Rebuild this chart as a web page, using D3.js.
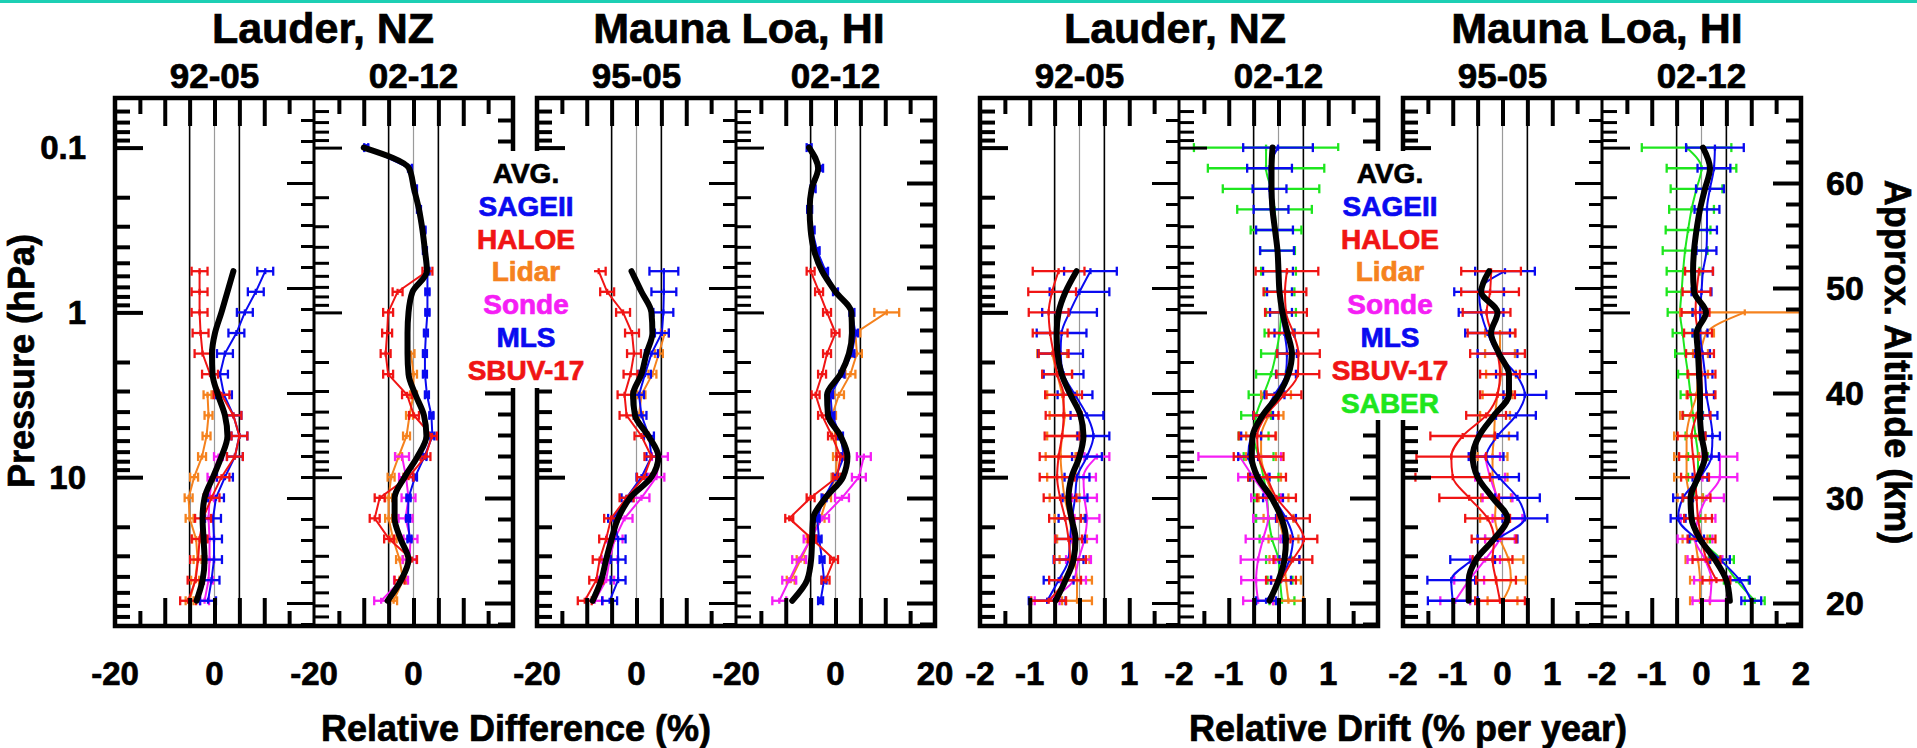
<!DOCTYPE html>
<html>
<head>
<meta charset="utf-8">
<script src="https://cdn.jsdelivr.net/npm/d3@7"></script>
<style>
  body { margin: 0; background: #fff; }
  svg text { font-family: "Liberation Sans", Arial, Helvetica, sans-serif; font-weight: bold; stroke-width: 0.7px; }
</style>
</head>
<body>
<svg id="chart" width="1917" height="748"></svg>
<script>
const _ = null;

// pressure levels (hPa), top to bottom
const levels = [0.1, 0.1334, 0.1778, 0.2371, 0.3162, 0.4217, 0.5623, 0.7499, 1, 1.334, 1.778, 2.371,
                3.162, 4.217, 5.623, 7.499, 10, 13.34, 17.78, 23.71, 31.62, 42.17, 56.23];

// ---- Lauder, relative difference, 92-05 ----
const ldA_avg   = [_,_,_,_,_,_, 3.8, 2.6, 1.4, 0.1, -0.5, -0.4, 0.7, 2.1, 2.6, 1.4, -0.3, -2.0, -2.4, -2.2, -2.0, -2.4, -3.6];
const ldA_sage  = [_,_,_,_,_,_, 10.2, 8.3, 6.1, 4.4, 2.1, 1.1, 1.9, 3.8, 5.0, 4.1, 2.1, 0.3, -0.3, -0.1, -0.1, -0.6, -1.3];
const ldA_haloe = [_,_,_,_,_,_, -3.0, -3.0, -3.0, -2.8, -2.4, -0.9, 1.4, 3.8, 5.0, 4.1, 1.4, -0.6, -2.3, -3.0, -3.3, -3.8, -5.3];
const ldA_lidar = [_,_,_,_,_,_,_,_,_,_,_,_, -1.4, -1.2, -1.6, -2.5, -4.1, -5.2, -5.0, -3.7, -3.4, -3.9, -5.0];
const ldA_sonde = [_,_,_,_,_,_,_,_,_,_,_,_,_,_,_, 0.8, -0.5, -1.0, -1.2, -1.0, -1.0, -1.2, -2.0];
const ldA_err   = [1.6, 1.6, 0.8, 0.9]; // SAGEII, HALOE, Lidar, Sonde

// ---- Lauder, relative difference, 02-12 ----
const ldB_avg   = [-10.0, -0.9, 0.1, 1.1, 1.8, 2.3, 2.7, -0.2, -1.0, -1.2, -1.2, -1.0, 0.4, 2.1, 2.6, 0.8, -1.8, -3.8, -3.8, -2.6, -1.0, -2.5, -5.2];
const ldB_mls   = [-9.5, -0.7, 0.3, 1.1, 2.0, 2.3, 2.8, 2.8, 2.8, 2.5, 2.3, 2.3, 2.7, 3.6, 3.8, 2.2, 0.3, -1.0, -1.1, -0.8, _, _, _];
const ldB_sbuv  = [_,_,_,_,_,_, 2.8, -3.2, -5.1, -5.3, -5.6, -5.1, -1.3, 0.1, 3.7, 2.4, -1.0, -6.8, -7.8, -4.9, -0.3, -2.8, _];
const ldB_lidar = [_,_,_,_,_,_,_,_,_,_, -0.5, 0.0, 0.0, -0.8, -1.4, -3.0, -4.5, -5.0, -5.0, -4.1, -2.8, -2.1, -4.0];
const ldB_sonde = [_,_,_,_,_,_,_,_,_,_,_,_,_,_,_, -2.3, -1.5, -1.0, -1.6, -0.6, -0.8, -2.5, -6.5];
const ldB_err   = [0.4, 1.0, 0.7, 1.4]; // MLS, SBUV-17, Lidar, Sonde

// ---- Mauna Loa, relative difference, 95-05 ----
const mdA_avg     = [_,_,_,_,_,_, -1.0, 1.0, 3.0, 3.2, 2.0, 1.0, -0.7, -0.3, 2.4, 4.4, 3.0, -1.3, -3.7, -5.0, -6.1, -7.1, -8.8];
const mdA_sage    = [_,_,_,_,_,_, 5.5, 5.5, 5.4, 5.1, 3.0, 1.7, 0.5, 1.0, 2.5, 3.0, 1.0, -2.0, -4.7, -3.7, -3.7, -3.7, -5.4];
const mdA_sageErr = [_,_,_,_,_,_, 2.9, 2.5, 2.0, 1.4, 1.3, 1.2, 1.0, 1.0, 1.0, 1.0, 1.0, 1.0, 1.0, 1.5, 1.5, 1.5, 1.5];
const mdA_haloe   = [_,_,_,_,_,_, -7.6, -5.9, -2.7, -0.9, -0.5, -1.2, -2.4, -2.0, 1.0, 3.0, 1.5, -2.0, -5.1, -6.1, -7.4, -8.1, -10.4];
const mdA_lidar   = [_,_,_,_,_,_,_,_,_, 5.7, 4.5, 3.2, 1.0, 0.5, _,_,_,_,_,_,_,_,_];
const mdA_sonde   = [_,_,_,_,_,_,_,_,_,_,_,_,_,_,_, 4.7, 4.0, 1.0, -2.4, -4.4, -5.4, -6.1, -8.4];
const mdA_err     = [1.4, 0.8, 1.6]; // HALOE, Lidar, Sonde

// ---- Mauna Loa, relative difference, 02-12 ----
const mdB_avg      = [-5.3, -3.5, -4.8, -5.2, -5.0, -4.3, -2.7, 0.0, 3.2, 3.3, 2.7, 1.0, -1.7, -1.5, 1.0, 2.4, 1.5, -2.0, -4.5, -4.7, -4.9, -5.7, -8.7];
const mdB_mls      = [-5.3, -3.0, -4.5, -5.2, -4.7, -3.7, -2.0, 0.0, 3.3, 4.0, 3.3, 1.3, -1.0, -0.7, 1.0, 1.7, 0.0, -2.3, -3.7, -3.3, -2.7, -2.3, -3.0];
const mdB_sbuv     = [_,_,_,_,_,_, -5.0, -3.3, -1.7, 0.0, -1.7, -2.7, -4.0, -2.7, -0.7, 1.0, 0.3, -5.0, -9.3, -4.7, -0.3, -2.0, _];
const mdB_lidar    = [_,_,_,_,_,_,_,_, 10.3, 4.0, 4.3, 3.0, 0.7, -0.7, 0.0, 0.3, 0.0, -1.7, -3.0, -5.0, -7.0, -9.0, _];
const mdB_lidarErr = [_,_,_,_,_,_,_,_, 2.5, 1.0, 1.0, 1.0, 1.0, 0.8, 0.8, 0.8, 0.8, 0.8, 0.8, 0.8, 0.8, 0.8, _];
const mdB_sonde    = [_,_,_,_,_,_,_,_,_,_,_,_,_,_,_, 5.7, 4.7, 1.3, -2.7, -5.0, -7.3, -9.3, -11.3];
const mdB_err      = [0.5, 0.8, 1.4]; // MLS, SBUV-17, Sonde

// ---- Lauder, relative drift, 92-05 ----
const ltA_avg      = [_,_,_,_,_,_, -0.06, -0.28, -0.42, -0.46, -0.44, -0.36, -0.18, 0.02, 0.08, 0.0, -0.16, -0.22, -0.16, -0.08, -0.12, -0.28, -0.48];
const ltA_sage     = [_,_,_,_,_,_, 0.22, 0.0, -0.2, -0.36, -0.38, -0.32, -0.09, 0.15, 0.28, 0.15, -0.05, -0.09, -0.15, -0.19, -0.22, -0.42, -0.65];
const ltA_sageErr  = [_,_,_,_,_,_, 0.53, 0.6, 0.55, 0.5, 0.45, 0.4, 0.35, 0.33, 0.32, 0.3, 0.25, 0.25, 0.27, 0.3, 0.3, 0.3, 0.37];
const ltA_haloe    = [_,_,_,_,_,_, -0.42, -0.55, -0.62, -0.59, -0.52, -0.45, -0.32, -0.32, -0.35, -0.42, -0.45, -0.39, -0.29, -0.22, -0.19, -0.29, -0.62];
const ltA_haloeErr = [_,_,_,_,_,_, 0.52, 0.48, 0.4, 0.35, 0.3, 0.3, 0.37, 0.36, 0.35, 0.38, 0.35, 0.33, 0.32, 0.27, 0.32, 0.32, 0.35];
const ltA_lidar    = [_,_,_,_,_,_,_,_,_,_, -0.55, -0.45, -0.35, -0.3, -0.35, -0.38, -0.35, -0.3, -0.2, -0.15, -0.1, -0.05, -0.05];
const ltA_sonde    = [_,_,_,_,_,_,_,_,_,_,_,_,_,_,_, 0.35, 0.08, 0.1, 0.15, 0.1, -0.02, -0.12, -0.65];
const ltA_err      = [0.3, 0.25]; // Lidar, Sonde

// ---- Lauder, relative drift, 02-12 ----
const ltB_avg      = [-0.12, -0.14, -0.14, -0.12, -0.07, -0.02, 0.0, 0.02, 0.08, 0.18, 0.27, 0.2, 0.0, -0.32, -0.52, -0.54, -0.42, -0.14, 0.06, 0.15, 0.12, 0.0, -0.18];
const ltB_mls      = [-0.01, -0.18, -0.18, -0.15, -0.08, -0.03, -0.01, 0.02, 0.05, 0.12, 0.17, 0.15, -0.08, -0.31, -0.55, -0.61, -0.38, -0.11, 0.15, 0.29, 0.22, 0.05, -0.25];
const ltB_mlsErr   = [0.7, 0.45, 0.34, 0.35, 0.37, 0.34, 0.3, 0.25, 0.22, 0.2, 0.2, 0.2, 0.2, 0.2, 0.2, 0.2, 0.2, 0.2, 0.2, 0.2, 0.2, 0.2, 0.2];
const ltB_saber    = [-0.25, -0.25, -0.15, -0.08, -0.05, -0.02, 0.0, 0.02, 0.05, 0.02, -0.05, -0.15, -0.3, -0.45, -0.5, -0.4, -0.3, -0.23, -0.2, -0.13, 0.0, 0.03, 0.07];
const ltB_saberErr = [1.45, 1.17, 0.97, 0.75, 0.51, 0.35, 0.35, 0.3, 0.3, 0.3, 0.3, 0.3, 0.3, 0.3, 0.3, 0.3, 0.3, 0.25, 0.25, 0.25, 0.25, 0.25, 0.25];
const ltB_sbuv     = [_,_,_,_,_,_, 0.17, 0.13, 0.15, 0.3, 0.4, 0.39, 0.11, -0.25, -0.43, -0.4, -0.23, -0.04, 0.3, 0.51, 0.29, 0.05, _];
const ltB_sbuvErr  = [_,_,_,_,_,_, 0.63, 0.43, 0.42, 0.5, 0.43, 0.43, 0.35, 0.25, 0.37, 0.5, 0.38, 0.39, 0.33, 0.27, 0.39, 0.3, _];
const ltB_lidar    = [_,_,_,_,_,_,_,_,_,_,_,_, -0.05, -0.2, -0.35, -0.35, -0.25, -0.1, 0.0, 0.1, 0.12, 0.15, 0.2];
const ltB_sonde    = [_,_,_,_,_,_,_,_,_,_,_,_,_,_,_, -0.78, -0.51, -0.25, -0.21, -0.31, -0.41, -0.45, -0.41];
const ltB_sondeErr = [_,_,_,_,_,_,_,_,_,_,_,_,_,_,_, 0.83, 0.3, 0.3, 0.3, 0.35, 0.35, 0.3, 0.3];
const ltB_err      = [0.3]; // Lidar

// ---- Mauna Loa, relative drift, 95-05 ----
const mtA_avg      = [_,_,_,_,_,_, -0.27, -0.43, -0.1, -0.23, -0.07, 0.13, 0.13, -0.17, -0.47, -0.6, -0.5, -0.2, 0.1, -0.17, -0.53, -0.68, -0.68];
const mtA_sage     = [_,_,_,_,_,_, 0.05, -0.47, -0.43, -0.3, -0.1, 0.27, 0.45, 0.27, -0.1, -0.33, -0.07, 0.3, 0.45, -0.1, -0.6, -1.03, -1.0];
const mtA_sageErr  = [_,_,_,_,_,_, 0.6, 0.5, 0.45, 0.45, 0.4, 0.4, 0.43, 0.4, 0.4, 0.35, 0.4, 0.45, 0.45, 0.4, 0.45, 0.48, 0.5];
const mtA_haloe    = [_,_,_,_,_,_, -0.23, -0.25, -0.32, -0.22, -0.1, -0.05, -0.1, -0.33, -0.8, -1.03, -1.0, -0.67, -0.3, -0.17, -0.2, -0.13, -0.05];
const mtA_haloeErr = [_,_,_,_,_,_, 0.6, 0.58, 0.48, 0.48, 0.55, 0.4, 0.35, 0.4, 0.65, 0.7, 0.75, 0.6, 0.45, 0.45, 0.4, 0.4, 0.5];
const mtA_lidar    = [_,_,_,_,_,_,_,_,_, -0.05, -0.05, -0.03, -0.1, -0.15, -0.17, -0.2, -0.2, -0.13, -0.15, -0.05, 0.12, 0.17, 0.0];
const mtA_sonde    = [_,_,_,_,_,_,_,_,_,_,_,_,_,_,_, -0.35, -0.25, -0.1, 0.1, -0.05, -0.35, -0.67, -0.95];
const mtA_err      = [0.3, 0.3]; // Lidar, Sonde

// ---- Mauna Loa, relative drift, 02-12 ----
const mtB_avg      = [0.03, 0.17, 0.07, -0.03, -0.1, -0.15, -0.17, -0.15, 0.09, -0.1, -0.07, -0.05, -0.03, -0.03, 0.0, 0.07, -0.07, -0.22, -0.2, -0.03, 0.27, 0.5, 0.57];
const mtB_mls      = [0.27, 0.25, 0.17, 0.11, 0.11, 0.1, 0.03, 0.0, -0.03, -0.03, 0.02, 0.07, 0.1, 0.17, 0.22, 0.2, -0.03, -0.37, -0.47, -0.1, 0.37, 0.77, 1.0];
const mtB_mlsErr   = [0.58, 0.33, 0.28, 0.25, 0.2, 0.2, 0.2, 0.2, 0.15, 0.15, 0.15, 0.15, 0.15, 0.15, 0.15, 0.15, 0.15, 0.2, 0.15, 0.15, 0.2, 0.2, 0.2];
const mtB_saber    = [-0.3, 0.0, -0.1, -0.2, -0.27, -0.33, -0.37, -0.4, -0.43, -0.38, -0.33, -0.27, -0.22, -0.17, -0.12, -0.07, -0.07, -0.17, -0.23, -0.03, 0.4, 0.7, 1.07];
const mtB_saberErr = [0.9, 0.7, 0.52, 0.45, 0.45, 0.45, 0.33, 0.3, 0.25, 0.2, 0.2, 0.2, 0.2, 0.2, 0.2, 0.2, 0.2, 0.2, 0.2, 0.2, 0.25, 0.25, 0.2];
const mtB_sbuv     = [_,_,_,_,_,_, -0.05, -0.1, -0.12, -0.07, -0.03, 0.0, 0.0, -0.1, -0.2, -0.17, -0.13, -0.1, -0.07, 0.0, 0.1, 0.3, _];
const mtB_lidar    = [_,_,_,_,_,_,_,_, 0.87, 0.1, -0.02, -0.07, -0.1, -0.23, -0.3, -0.3, -0.3, -0.23, -0.17, -0.13, -0.07, -0.03, -0.03];
const mtB_lidarErr = [_,_,_,_,_,_,_,_, 1.3, 0.15, 0.15, 0.2, 0.2, 0.2, 0.25, 0.25, 0.25, 0.25, 0.25, 0.25, 0.25, 0.2, 0.2];
const mtB_sonde    = [_,_,_,_,_,_,_,_,_,_,_,_,_,_,_, 0.37, 0.37, 0.1, -0.07, -0.13, 0.07, 0.2, 0.17];
const mtB_err      = [0.28, 0.35]; // SBUV-17, Sonde

// labels
const siteTitles = ['Lauder, NZ', 'Mauna Loa, HI', 'Lauder, NZ', 'Mauna Loa, HI'];
const periods = [['92-05', '02-12'], ['95-05', '02-12'], ['92-05', '02-12'], ['95-05', '02-12']];
const legendNames = ['AVG.', 'SAGEII', 'HALOE', 'Lidar', 'Sonde', 'MLS', 'SBUV-17', 'SABER'];
const pressureLabels = [0.1, 1, 10];
const altitudeLabels = [20, 30, 40, 50, 60];
const pMajor = [0.1, 1, 10];
const pMinor = [0.06, 0.07, 0.08, 0.09, 0.2, 0.3, 0.4, 0.5, 0.6, 0.7, 0.8, 0.9, 2, 3, 4, 5, 6, 7, 8, 9, 20, 30, 40, 50, 60, 70];
const aMajor = [20, 30, 40, 50, 60];
const aMinor = [18, 22, 24, 26, 28, 32, 34, 36, 38, 42, 44, 46, 48, 52, 54, 56, 58, 62, 64, 66];

const colors = {
  'SAGEII': '#0a0af0', 'MLS': '#0a0af0', 'HALOE': '#f01414', 'SBUV-17': '#f01414',
  'Lidar': '#f5821e', 'Sonde': '#f51ef5', 'SABER': '#1ee61e', 'AVG.': '#000'
};

const panels = [
  {g: 0, s: 0, kind: 'diff', avg: ldA_avg, series: [
    ['Lidar', ldA_lidar, ldA_err[2]], ['Sonde', ldA_sonde, ldA_err[3]],
    ['SAGEII', ldA_sage, ldA_err[0]], ['HALOE', ldA_haloe, ldA_err[1]]]},
  {g: 0, s: 1, kind: 'diff', avg: ldB_avg, series: [
    ['Lidar', ldB_lidar, ldB_err[2]], ['Sonde', ldB_sonde, ldB_err[3]],
    ['MLS', ldB_mls, ldB_err[0]], ['SBUV-17', ldB_sbuv, ldB_err[1]]]},
  {g: 1, s: 0, kind: 'diff', avg: mdA_avg, series: [
    ['Lidar', mdA_lidar, mdA_err[1]], ['Sonde', mdA_sonde, mdA_err[2]],
    ['SAGEII', mdA_sage, mdA_sageErr], ['HALOE', mdA_haloe, mdA_err[0]]]},
  {g: 1, s: 1, kind: 'diff', avg: mdB_avg, series: [
    ['Lidar', mdB_lidar, mdB_lidarErr], ['Sonde', mdB_sonde, mdB_err[2]],
    ['MLS', mdB_mls, mdB_err[0]], ['SBUV-17', mdB_sbuv, mdB_err[1]]]},
  {g: 2, s: 0, kind: 'drift', avg: ltA_avg, series: [
    ['Lidar', ltA_lidar, ltA_err[0]], ['Sonde', ltA_sonde, ltA_err[1]],
    ['SAGEII', ltA_sage, ltA_sageErr], ['HALOE', ltA_haloe, ltA_haloeErr]]},
  {g: 2, s: 1, kind: 'drift', avg: ltB_avg, series: [
    ['SABER', ltB_saber, ltB_saberErr], ['Lidar', ltB_lidar, ltB_err[0]], ['Sonde', ltB_sonde, ltB_sondeErr],
    ['MLS', ltB_mls, ltB_mlsErr], ['SBUV-17', ltB_sbuv, ltB_sbuvErr]]},
  {g: 3, s: 0, kind: 'drift', avg: mtA_avg, series: [
    ['Lidar', mtA_lidar, mtA_err[0]], ['Sonde', mtA_sonde, mtA_err[1]],
    ['SAGEII', mtA_sage, mtA_sageErr], ['HALOE', mtA_haloe, mtA_haloeErr]]},
  {g: 3, s: 1, kind: 'drift', avg: mtB_avg, series: [
    ['SABER', mtB_saber, mtB_saberErr], ['Lidar', mtB_lidar, mtB_lidarErr], ['Sonde', mtB_sonde, mtB_err[1]],
    ['MLS', mtB_mls, mtB_mlsErr], ['SBUV-17', mtB_sbuv, mtB_err[0]]]}
];

// layout
const W = 1917, H = 748;
const plotTop = 98, plotBot = 626;
const groupLeft = [115, 537, 980, 1403];
const subW = 199;
const titleX = [323, 739, 1175, 1597];
const legendBoxes = [[458, 151, 136, 237], [1334, 151, 112, 269]];
const legendX = [526, 1390];

const svg = d3.select('#chart');
svg.append('rect').attr('width', W).attr('height', 3).attr('fill', '#1ccfb4');

const yP = d3.scaleLog().domain([0.05, 80]).range([plotTop, plotBot]);
const yA = d3.scaleLinear().domain([20, 60]).range([603, 183]);

function subScale(p) {
  const l = groupLeft[p.g] + p.s * subW;
  return d3.scaleLinear().domain(p.kind === 'diff' ? [-20, 20] : [-2, 2]).range([l, l + subW]);
}

function drawSeries(g, x, sr, kind) {
  const [name, vals, err] = sr;
  const col = colors[name];
  const pts = levels.map((lv, j) => ({p: lv, v: vals[j], e: typeof err === 'number' ? err : err[j]}))
    .filter(d => d.v != null);
  g.append('path').datum(pts)
    .attr('d', d3.line().x(d => x(d.v)).y(d => yP(d.p))
      .curve(kind === 'diff' ? d3.curveLinear : d3.curveMonotoneY))
    .attr('fill', 'none').attr('stroke', col).attr('stroke-width', 2);
  const eb = g.append('g').attr('stroke', col).attr('stroke-width', 2.3);
  pts.forEach(d => {
    const y = yP(d.p), x0 = x(d.v - d.e), x1 = x(d.v + d.e), xc = x(d.v);
    eb.append('line').attr('x1', x0).attr('x2', x1).attr('y1', y).attr('y2', y);
    [x0, x1].forEach(xx => eb.append('line').attr('x1', xx).attr('x2', xx).attr('y1', y - 4.5).attr('y2', y + 4.5));
    eb.append('line').attr('x1', xc).attr('x2', xc).attr('y1', y - 3).attr('y2', y + 3);
  });
  if (name === 'MLS' && kind === 'diff') {
    g.append('g').selectAll('rect').data(pts).join('rect')
      .attr('x', d => x(d.v) - 3).attr('y', d => yP(d.p) - 3.5)
      .attr('width', 6).attr('height', 7).attr('fill', col);
  }
}

// panels: reference lines, series, average
panels.forEach((p, i) => {
  const x = subScale(p);
  const u = p.kind === 'diff' ? 5 : 0.5;
  const g = svg.append('g');
  g.append('clipPath').attr('id', 'clip' + i).append('rect')
    .attr('x', x.range()[0]).attr('y', plotTop).attr('width', subW).attr('height', plotBot - plotTop);
  g.append('line').attr('x1', x(0)).attr('x2', x(0)).attr('y1', plotTop).attr('y2', plotBot)
    .attr('stroke', '#9a9a9a').attr('stroke-width', 1.2);
  [-u, u].forEach(v => g.append('line').attr('x1', x(v)).attr('x2', x(v))
    .attr('y1', plotTop).attr('y2', plotBot).attr('stroke', '#000').attr('stroke-width', 1.6));
  const body = g.append('g').attr('clip-path', `url(#clip${i})`);
  p.series.forEach(sr => drawSeries(body, x, sr, p.kind));
  const avgPts = levels.map((lv, j) => ({p: lv, v: p.avg[j]})).filter(d => d.v != null);
  body.append('path').datum(avgPts)
    .attr('d', d3.line().x(d => x(d.v)).y(d => yP(d.p)).curve(d3.curveMonotoneY))
    .attr('fill', 'none').attr('stroke', '#000').attr('stroke-width', 6)
    .attr('stroke-linecap', 'round').attr('stroke-linejoin', 'round');
});

function tickAxis(axisFn, scale, vals, size, tx, ty, sw) {
  const g = svg.append('g').attr('transform', `translate(${tx},${ty})`)
    .call(axisFn(scale).tickValues(vals).tickSize(size).tickSizeOuter(0).tickFormat(''));
  g.select('.domain').remove();
  g.selectAll('text').remove();
  g.selectAll('line').attr('stroke', '#000').attr('stroke-width', sw || 4);
}

// x ticks on top and bottom frames
panels.forEach(p => {
  const x = subScale(p);
  const long = p.kind === 'diff' ? [-10, -5, 0, 5, 10] : [-1, -0.5, 0, 0.5, 1];
  const short = p.kind === 'diff' ? [-15, 15] : [-1.5, 1.5];
  tickAxis(d3.axisBottom, x, long, 28, 0, plotTop);
  tickAxis(d3.axisBottom, x, short, 16, 0, plotTop);
  tickAxis(d3.axisTop, x, long, 28, 0, plotBot);
  tickAxis(d3.axisTop, x, short, 15, 0, plotBot);
});

// frames, middle axes, y ticks
groupLeft.forEach(l => {
  const mid = l + subW, r = l + 2 * subW;
  tickAxis(d3.axisRight, yP, pMajor, 28, l, 0);
  tickAxis(d3.axisRight, yP, pMinor, 15, l, 0);
  tickAxis(d3.axisRight, yP, pMajor, 28, mid, 0, 3);
  tickAxis(d3.axisRight, yP, pMinor, 15, mid, 0, 3);
  tickAxis(d3.axisLeft, yA, aMajor, 27, mid, 0, 3);
  tickAxis(d3.axisLeft, yA, aMinor, 13, mid, 0, 3);
  tickAxis(d3.axisLeft, yA, aMajor, 28, r, 0);
  tickAxis(d3.axisLeft, yA, aMinor, 15, r, 0);
  svg.append('line').attr('x1', mid).attr('x2', mid).attr('y1', plotTop).attr('y2', plotBot)
    .attr('stroke', '#000').attr('stroke-width', 3);
  svg.append('rect').attr('x', l).attr('y', plotTop).attr('width', 2 * subW).attr('height', plotBot - plotTop)
    .attr('fill', 'none').attr('stroke', '#000').attr('stroke-width', 4.5);
});

// legends
legendBoxes.forEach((b, i) => {
  svg.append('rect').attr('x', b[0]).attr('y', b[1]).attr('width', b[2]).attr('height', b[3]).attr('fill', '#fff');
  const names = i === 0 ? legendNames.slice(0, 7) : legendNames;
  svg.append('g').selectAll('text').data(names).join('text')
    .attr('x', legendX[i]).attr('y', (d, j) => 183 + j * 32.8)
    .attr('text-anchor', 'middle').attr('font-size', 28)
    .attr('fill', d => colors[d]).attr('stroke', d => colors[d])
    .text(d => d);
});

function label(x, y, txt, size, anchor) {
  return svg.append('text').attr('x', x).attr('y', y).attr('text-anchor', anchor || 'middle')
    .attr('font-size', size).attr('fill', '#000').attr('stroke', '#000').text(txt);
}

// titles
siteTitles.forEach((t, i) => label(titleX[i], 43, t, 43));
panels.forEach(p => label(subScale(p)(0), 88, periods[p.g][p.s], 35));

// bottom tick labels
panels.forEach(p => {
  const x = subScale(p);
  let vals = p.kind === 'diff' ? [-20, 0] : [-2, -1, 0, 1];
  if (p.s === 1 && (p.g === 1 || p.g === 3)) vals = vals.concat(p.kind === 'diff' ? [20] : [2]);
  vals.forEach(v => label(x(v), 685, String(v), 33));
});

// left pressure labels and right altitude labels
pressureLabels.forEach(v => label(86, yP(v), String(v), 33, 'end').attr('dy', '0.35em'));
altitudeLabels.forEach(v => label(1826, yA(v), String(v), 34, 'start').attr('dy', '0.35em'));

// axis titles
label(516, 741, 'Relative Difference (%)', 36);
label(1408, 741, 'Relative Drift (% per year)', 36);
label(0, 0, 'Pressure (hPa)', 36).attr('transform', 'translate(34,361) rotate(-90)');
label(0, 0, 'Approx. Altitude (km)', 36).attr('transform', 'translate(1885,362) rotate(90)');
</script>
</body>
</html>
